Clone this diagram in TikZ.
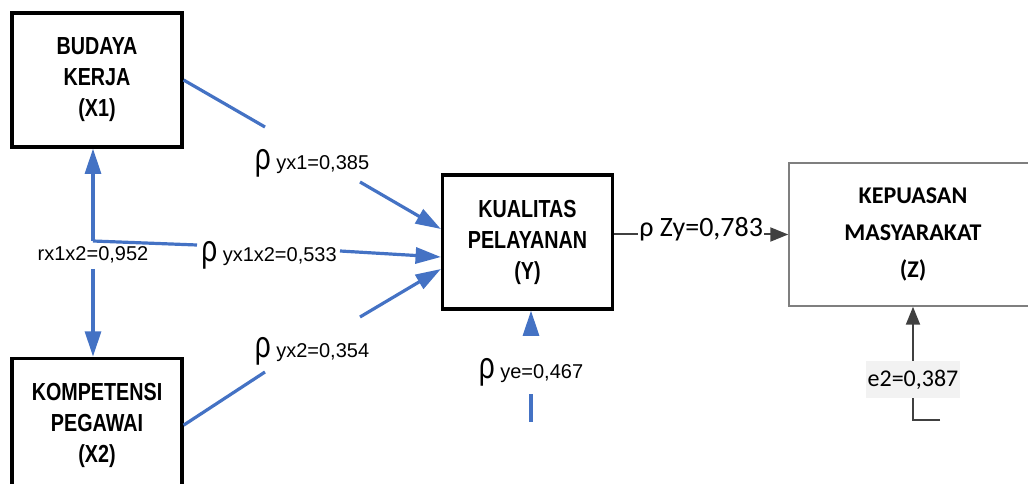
\documentclass[tikz,border=0pt]{standalone}
\usepackage{fontspec}
\setmainfont{Liberation Sans}
\newfontfamily\narrowfont{Liberation Sans}[FakeStretch=0.8]
\newfontfamily\calibrifont{Carlito}
\usetikzlibrary{arrows.meta, positioning}
\definecolor{pathblue}{HTML}{4472C4}
\definecolor{darkline}{HTML}{404040}
\definecolor{boxgray}{HTML}{7F7F7F}
\definecolor{lblback}{HTML}{F2F2F2}
\newcommand{\rhobig}{{\fontsize{28}{28}\selectfont\scalebox{0.75}[1]{ρ}}}
\tikzset{
  varbox/.style = {rectangle, draw=black, line width=2.4pt, minimum width=127.5pt, minimum height=100.5pt, align=center, inner sep=0pt, font=\narrowfont\bfseries\fontsize{18.5}{23.25}\selectfont},
  endbox/.style = {rectangle, draw=boxgray, line width=1.1pt, minimum width=186pt, minimum height=107.25pt, align=center, inner sep=0pt, font=\calibrifont\bfseries\fontsize{18}{27.75}\selectfont},
  blueline/.style = {line width=2.4pt, pathblue},
  bluearrow/.style = {blueline, -{Triangle[length=19pt, width=12pt]}},
  grayarrow/.style = {line width=1.5pt, darkline, -{Triangle[length=13.5pt, width=10.5pt]}},
  coef/.style = {inner sep=0pt, font=\fontsize{15}{18}\selectfont}
}
\begin{document}
\begin{tikzpicture}[x=0.75pt, y=-0.75pt]
  \useasboundingbox (0,0) rectangle (1028,484);

  % Variables X
  \node (x1) [varbox] at (97,80) {BUDAYA\\KERJA\\(X1)};
  \node (x2) [varbox, below=156pt of x1] {KOMPETENSI\\PEGAWAI\\(X2)};

  % Variable Y and Z
  \node (y) [varbox] at (527.5,242) {KUALITAS\\PELAYANAN\\(Y)};
  \node (z) [endbox] at (913,234.5) {KEPUASAN\\MASYARAKAT\\(Z)};

  % Correlation X1 - X2
  \coordinate (r) at (93,241);
  \coordinate (rlo) at (93,269);
  \draw[bluearrow] (r) -- (r |- x1.south);
  \draw[bluearrow] (rlo) -- (rlo |- x2.north);
  \node (c0) [coef, anchor=base] at (93,261) {rx1x2=0,952};

  % X1 -> Y
  \coordinate (g1a) at (265,127);
  \coordinate (g1b) at (360,182);
  \draw[blueline] (x1.east) -- (g1a);
  \draw[bluearrow] (g1b) -- ([yshift=9.75pt]y.west);
  \node (c1) [coef, anchor=base] at (312,170) {\rhobig\ yx1=0,385};

  % X1X2 -> Y
  \coordinate (g3a) at (197,245);
  \coordinate (g3b) at (340,251);
  \draw[blueline] (r) -- (g3a);
  \draw[bluearrow] (g3b) -- ([yshift=-11.25pt]y.west);
  \node (c3) [coef, anchor=base] at (269,262) {\rhobig\ yx1x2=0,533};

  % X2 -> Y
  \coordinate (g2a) at (265,372);
  \coordinate (g2b) at (360,317);
  \draw[blueline] (x2.east) -- (g2a);
  \draw[bluearrow] (g2b) -- ([yshift=-20.25pt]y.west);
  \node (c2) [coef, anchor=base] at (312,358) {\rhobig\ yx2=0,354};

  % e -> Y
  \coordinate (ea) at (531,422);
  \coordinate (eb) at (531,394);
  \coordinate (ec) at (531,336);
  \draw[blueline] (ea) -- (eb);
  \draw[bluearrow] (ec) -- (ec |- y.south);
  \node (ce) [coef, anchor=base] at (531,379) {\rhobig\ ye=0,467};

  % Y -> Z
  \draw[grayarrow] (y.east |- z.west) -- (z.west)
    node (c4) [midway, yshift=3.75pt, fill=white, text=black, inner sep=1pt, font=\calibrifont\fontsize{21}{21}\selectfont] {ρ Zy=0,783};

  % e2 -> Z
  \coordinate (e2s) at (940,420);
  \draw[grayarrow] (e2s) -| (z.south);
  \node (c5) [fill=lblback, inner xsep=1pt, inner ysep=0pt, minimum height=27.75pt, font=\calibrifont\fontsize{18}{18}\selectfont] at (913,380) {e2=0,387};
\end{tikzpicture}
\end{document}
